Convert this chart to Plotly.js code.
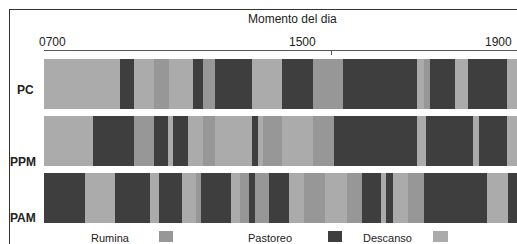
<!DOCTYPE html>
<html>
<head>
<meta charset="utf-8">
<script src="https://cdn.plot.ly/plotly-3.0.1.min.js"></script>
<style>html,body{margin:0;padding:0;background:#fff}#chart{width:517px;height:244px}</style>
</head>
<body>
<div id="chart"></div>
<script>
// Rows (grupos) and activity sequences, durations in minutes from 07:00
const rows = ['PC', 'PPM', 'PAM'];
const activities = ['Rumina', 'Pastoreo', 'Descanso'];
const colors = {Rumina: '#979797', Pastoreo: '#3e3e3e', Descanso: '#ababab'};
// R = Rumina, P = Pastoreo, D = Descanso
const pcAct = ['D','P','D','R','D','P','R','P','D','P','R','P','D','R','P','D','P','D'];
const pcMin = [127,23,34,25,41,16,20,61,51,52,50,123,13,10,42,21,66,25];
const ppmAct = ['D','P','R','P','D','P','D','R','D','P','D','R','D','R','P','D','P','D','P','D'];
const ppmMin = [82,68,34,23,9,25,25,20,61,11,8,32,52,35,138,16,78,10,48,25];
const pamAct = ['P','D','P','D','P','D','R','P','D','R','P','R','P','D','R','D','R','P','D','P','D','R','P','D','P'];
const pamMin = [69,49,59,15,38,25,8,49,15,15,11,23,33,26,35,36,25,32,9,12,24,28,104,36,24];
const startHour = 7;
const tickHours = [7, 15];
const tickLabels = ['0700', '1500', '1900'];
const axisTitle = 'Momento del dia';

const codeName = {R: 'Rumina', P: 'Pastoreo', D: 'Descanso'};
const seqs = [[pcAct, pcMin], [ppmAct, ppmMin], [pamAct, pamMin]];

const traces = activities.map(a => ({type: 'bar', orientation: 'h', name: a, x: [], base: [], y: [],
  width: [], marker: {color: colors[a], line: {width: 0}}, hoverinfo: 'skip', showlegend: false}));
seqs.forEach(([acts, mins], ri) => {
  let cum = 0;
  acts.forEach((c, i) => {
    const t = traces[activities.indexOf(codeName[c])];
    t.y.push(rows[ri]);
    t.base.push(startHour + cum / 60);
    t.x.push(mins[i] / 60);
    t.width.push(0.877);
    cum += mins[i];
  });
});

// pixel -> paper helpers (plot area: x 44..517, y 51..227)
const PX = p => (p - 44) / 473;
const PY = p => (227 - p) / 176;
const font = 'Liberation Sans, Arial, sans-serif';
const txt = '#222';

const annotations = [
  {text: axisTitle, x: PX(292), y: PY(19), xanchor: 'center'},
  {text: tickLabels[0], x: PX(52.5), y: PY(42), xanchor: 'center'},
  {text: tickLabels[1], x: PX(302.5), y: PY(42), xanchor: 'center'},
  {text: tickLabels[2], x: PX(498), y: PY(42), xanchor: 'center'},
  {text: '<b>' + rows[0] + '</b>', x: PX(36), y: PY(90), xanchor: 'right'},
  {text: '<b>' + rows[1] + '</b>', x: PX(38), y: PY(161.5), xanchor: 'right'},
  {text: '<b>' + rows[2] + '</b>', x: PX(38), y: PY(218), xanchor: 'right'},
  {text: activities[0], x: PX(110), y: PY(238), xanchor: 'center', size: 11},
  {text: activities[1], x: PX(270), y: PY(238), xanchor: 'center', size: 11},
  {text: activities[2], x: PX(387), y: PY(238), xanchor: 'center', size: 11}
].map(a => ({text: a.text, x: a.x, y: a.y, xref: 'paper', yref: 'paper', xanchor: a.xanchor,
  yanchor: 'middle', showarrow: false, font: {family: font, size: a.size || 12, color: txt}}));

const legendBoxes = [[159, 173], [328, 342], [433, 448]];
const shapes = legendBoxes.map((b, i) => ({type: 'rect', xref: 'paper', yref: 'paper',
  x0: PX(b[0]), x1: PX(b[1]), y0: PY(242), y1: PY(231),
  fillcolor: colors[activities[i]], line: {width: 0}}));
// outer frame (top and left edges visible)
shapes.push({type: 'line', xref: 'paper', yref: 'paper', x0: PX(9), x1: PX(530), y0: PY(9.5), y1: PY(9.5), line: {color: '#333', width: 1}});
shapes.push({type: 'line', xref: 'paper', yref: 'paper', x0: PX(9.5), x1: PX(9.5), y0: PY(9), y1: PY(260), line: {color: '#333', width: 1}});

const layout = {
  width: 517, height: 244,
  margin: {l: 44, r: 0, t: 51, b: 17, pad: 0},
  paper_bgcolor: '#ffffff', plot_bgcolor: '#ffffff',
  barmode: 'overlay', bargap: 0,
  showlegend: false,
  xaxis: {side: 'top', range: [startHour, startHour + 791 / 60], showgrid: false, zeroline: false,
    showline: true, linecolor: '#555', linewidth: 1, ticks: 'inside', ticklen: 4, tickcolor: '#555',
    tickvals: tickHours, showticklabels: false, fixedrange: true},
  yaxis: {type: 'category', categoryarray: rows, range: [2.504, -0.584], showgrid: false,
    zeroline: false, showline: false, showticklabels: false, ticks: '', fixedrange: true},
  annotations: annotations,
  shapes: shapes
};

Plotly.newPlot('chart', traces, layout, {displayModeBar: false, staticPlot: true});
</script>
</body>
</html>
